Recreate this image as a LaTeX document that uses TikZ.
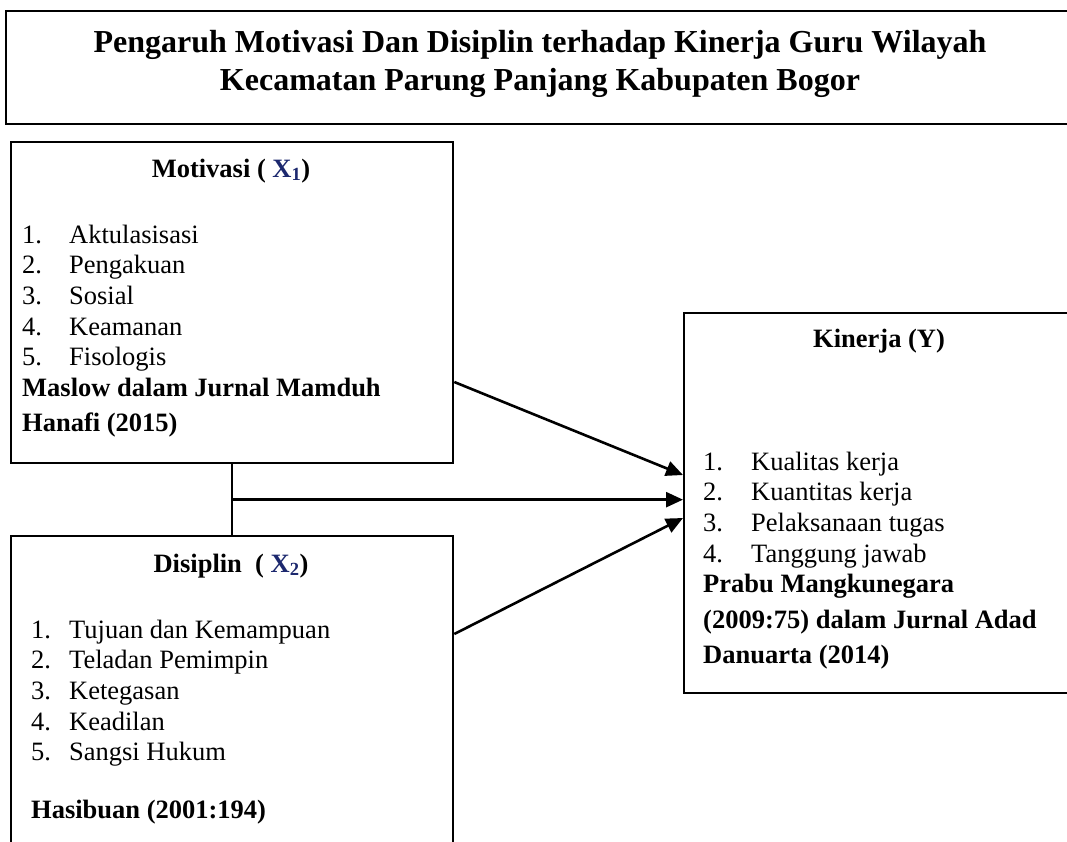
\documentclass[tikz,border=0pt]{standalone}
\usepackage{fontspec}
\setmainfont{Liberation Serif}
\usetikzlibrary{arrows.meta,calc,positioning}
\definecolor{xnavy}{RGB}{28,40,110}
\newcommand{\xvar}[1]{\textcolor{xnavy}{X\textsubscript{#1}}}

\begin{document}
\begin{tikzpicture}[x=1pt,y=-1pt,
    box/.style={draw,line width=2.3pt,inner sep=0pt,anchor=north west},
    txt/.style={inner sep=0pt,anchor=base west,font=\fontsize{26.5}{30.7}\selectfont},
    head/.style={inner sep=0pt,anchor=base,font=\fontsize{26.5}{30.7}\selectfont\bfseries},
    link/.style={line width=2.6pt,-{Triangle[length=17pt,width=15pt]}}]

  \useasboundingbox (0,0) rectangle (1067,841);
  \clip (0,0) rectangle (1067,841);

  % kotak
  \node[box,minimum width=1090pt,minimum height=113pt] (judul) at (5,10) {};
  \node[box,minimum width=442pt,minimum height=321pt] (mot) at (10,141) {};
  \node[box,minimum width=442pt,minimum height=330pt] (dis) at (10,535) {};
  \node[box,minimum width=420pt,minimum height=380pt] (kin) at (683,312) {};

  \node[inner sep=0pt,anchor=base,font=\fontsize{32}{38}\selectfont\bfseries] (judul-teks) at (540,52)
    {\begin{tabular}[t]{@{}c@{}}Pengaruh Motivasi Dan Disiplin terhadap Kinerja Guru Wilayah\\
     Kecamatan Parung Panjang Kabupaten Bogor\end{tabular}};

  % motivasi
  \node[head] (mot-judul) at (231,177) {Motivasi ( \xvar{1})};
  \node[txt] (mot-isi) at (22,243) {\begin{tabular}[t]{@{}p{47pt}@{}l@{}}
    1. & Aktulasisasi\\ 2. & Pengakuan\\ 3. & Sosial\\ 4. & Keamanan\\ 5. & Fisologis\\
    \multicolumn{2}{@{}l@{}}{\bfseries Maslow dalam Jurnal Mamduh}\\[4.5pt]
    \multicolumn{2}{@{}l@{}}{\bfseries Hanafi (2015)}\end{tabular}};

  % disiplin
  \node[head] (dis-judul) at (231,572) {Disiplin\ \ ( \xvar{2})};
  \node[txt] (dis-isi) at (31,638) {\begin{tabular}[t]{@{}p{38pt}@{}l@{}}
    1. & Tujuan dan Kemampuan\\ 2. & Teladan Pemimpin\\ 3. & Ketegasan\\ 4. & Keadilan\\
    5. & Sangsi Hukum\end{tabular}};
  \node[txt,font=\fontsize{26.5}{30.7}\selectfont\bfseries] (dis-sumber) at (31,818) {Hasibuan (2001:194)};

  % kinerja
  \node[head,anchor=base west] (kin-judul) at (813,347) {Kinerja (Y)};
  \node[txt] (kin-isi) at (703,470) {\begin{tabular}[t]{@{}p{48pt}@{}l@{}}
    1. & Kualitas kerja\\ 2. & Kuantitas kerja\\ 3. & Pelaksanaan tugas\\ 4. & Tanggung jawab\\
    \multicolumn{2}{@{}l@{}}{\bfseries Prabu Mangkunegara}\\[5pt]
    \multicolumn{2}{@{}l@{}}{\bfseries (2009:75) dalam Jurnal Adad}\\[4.5pt]
    \multicolumn{2}{@{}l@{}}{\bfseries Danuarta (2014)}\end{tabular}};

  % garis
  \coordinate (simpang) at ($(mot.south)!.5!(dis.north)$);
  \draw[line width=2.6pt] (mot.south) -- (dis.north);
  \draw[link] ([yshift=-241pt]mot.north east) -- ([yshift=-163pt]kin.north west);
  \draw[link] (simpang) -- (simpang -| kin.west);
  \draw[link] ([yshift=-99pt]dis.north east) -- ([yshift=-206pt]kin.north west);
\end{tikzpicture}
\end{document}
